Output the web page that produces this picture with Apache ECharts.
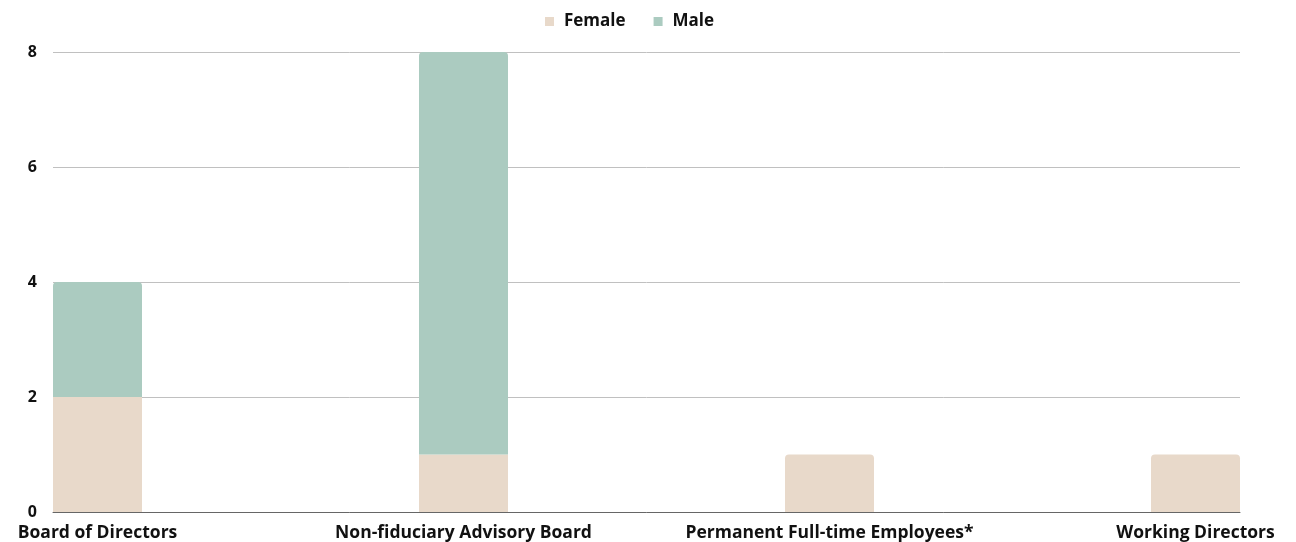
<!DOCTYPE html>
<html>
<head>
<meta charset="utf-8">
<script src="https://cdn.jsdelivr.net/npm/echarts@6/dist/echarts.min.js"></script>
<style>
html,body{margin:0;padding:0;background:#fff;}
#chart{width:1296px;height:542px;}
</style>
</head>
<body>
<div id="chart"></div>
<script>
const categories = ['Board of Directors', 'Non-fiduciary Advisory Board', 'Permanent Full-time Employees*', 'Working Directors'];
const femaleValues = [2, 1, 1, 1];
const maleValues = [2, 7, 0, 0];
const yTicks = [0, 2, 4, 6, 8];

const FONT = '"Open Sans"';
const femaleColor = '#E8D9CA';
const maleColor = '#ABCBC0';

const femaleData = femaleValues.map((v, i) => ({
  value: v,
  itemStyle: { borderRadius: maleValues[i] > 0 ? 0 : [4, 4, 0, 0] }
}));
const maleData = maleValues.map(v => ({ value: v, itemStyle: { borderRadius: [4, 4, 0, 0] } }));

const chart = echarts.init(document.getElementById('chart'), null, { renderer: 'canvas' });
chart.setOption({
  animation: false,
  backgroundColor: '#fff',
  legend: {
    top: 8,
    left: 540,
    itemWidth: 9,
    itemHeight: 9,
    itemGap: 28,
    icon: 'rect',
    textStyle: { fontFamily: FONT, fontWeight: 700, fontSize: 17, color: '#111', padding: [0, 0, 0, 5] },
    data: ['Female', 'Male']
  },
  grid: [
    { left: 53, right: 56, top: 52, bottom: 30, containLabel: false },
    { left: 97.5, right: 100.5, top: 52, bottom: 30, containLabel: false }
  ],
  xAxis: [
    {
      type: 'category', gridIndex: 0, data: categories,
      axisLine: { show: true, lineStyle: { color: '#666', width: 1 } },
      axisTick: { show: false }, axisLabel: { show: false }, splitLine: { show: false }
    },
    {
      type: 'category', gridIndex: 1, data: categories, boundaryGap: false,
      axisLine: { show: false }, axisTick: { show: false },
      axisLabel: { interval: 0, margin: 12, fontFamily: FONT, fontWeight: 700, fontSize: 17.5, color: '#111' }
    }
  ],
  yAxis: [
    {
      type: 'value', gridIndex: 0, min: yTicks[0], max: yTicks[yTicks.length - 1], interval: 2,
      axisLine: { show: false }, axisTick: { show: false },
      axisLabel: { margin: 16, fontFamily: FONT, fontWeight: 700, fontSize: 16, color: '#111' },
      splitLine: { lineStyle: { color: '#c0c0c0', width: 1 } }
    },
    {
      type: 'value', gridIndex: 1, min: yTicks[0], max: yTicks[yTicks.length - 1], interval: 2,
      show: false, splitLine: { show: false }
    }
  ],
  series: [
    {
      name: 'Female', type: 'bar', stack: 'total', xAxisIndex: 1, yAxisIndex: 1,
      barWidth: 89, itemStyle: { color: femaleColor }, data: femaleData
    },
    {
      name: 'Male', type: 'bar', stack: 'total', xAxisIndex: 1, yAxisIndex: 1,
      barWidth: 89, itemStyle: { color: maleColor }, data: maleData
    }
  ]
});
</script>
</body>
</html>
